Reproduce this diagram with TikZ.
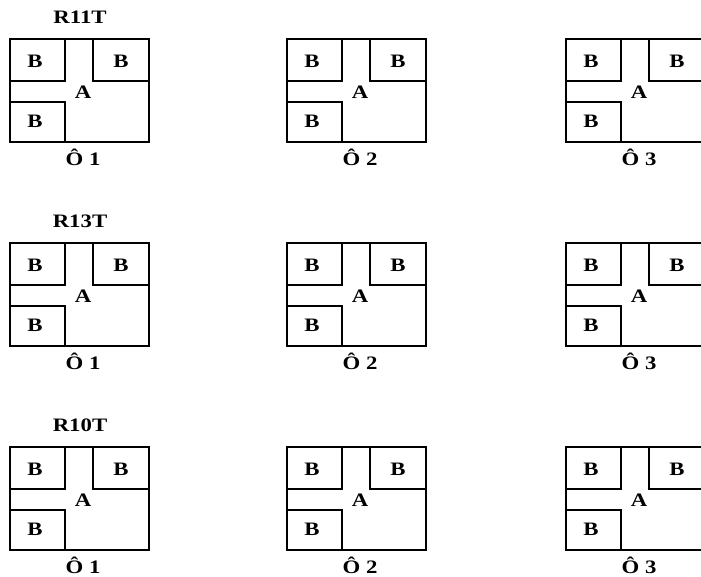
\documentclass[tikz,border=0pt]{standalone}
\usepackage{fontspec}
\setmainfont{Liberation Serif}
\usepackage{tikz}

\tikzset{
  room/.style={draw, line width=1.2pt},
  lbl/.style={font=\bfseries\fontsize{19}{21}\selectfont, xscale=1.2, transform shape, inner sep=0pt},
}

\begin{document}
\begin{tikzpicture}[x=1pt, y=-1pt]
  \useasboundingbox (0,0) rectangle (701,577);
  \clip (0,0) rectangle (701,577);
  \foreach \r/\rname/\oy in {1/R11T/39, 2/R13T/243, 3/R10T/447} {
    \node[lbl] (row\r) at (80,\oy-22) {\rname};
    \foreach \c/\ox in {1/10, 2/287, 3/566} {
      % plot A with its three B rooms
      \draw[room] (\ox,\oy) rectangle ++(139,103);
      \draw[room] (\ox,\oy) rectangle ++(55,42);
      \draw[room] (\ox+83,\oy) rectangle ++(56,42);
      \draw[room] (\ox,\oy+63) rectangle ++(55,40);
      \node[lbl] (b1-\r-\c) at (\ox+25,\oy+22) {B};
      \node[lbl] (b2-\r-\c) at (\ox+111,\oy+22) {B};
      \node[lbl] (b3-\r-\c) at (\ox+25,\oy+82) {B};
      \node[lbl] (a-\r-\c) at (\ox+73,\oy+53) {A};
      \node[lbl] (o-\r-\c) at (\ox+73,\oy+118) {Ô \c};
    }
  }
\end{tikzpicture}
\end{document}
